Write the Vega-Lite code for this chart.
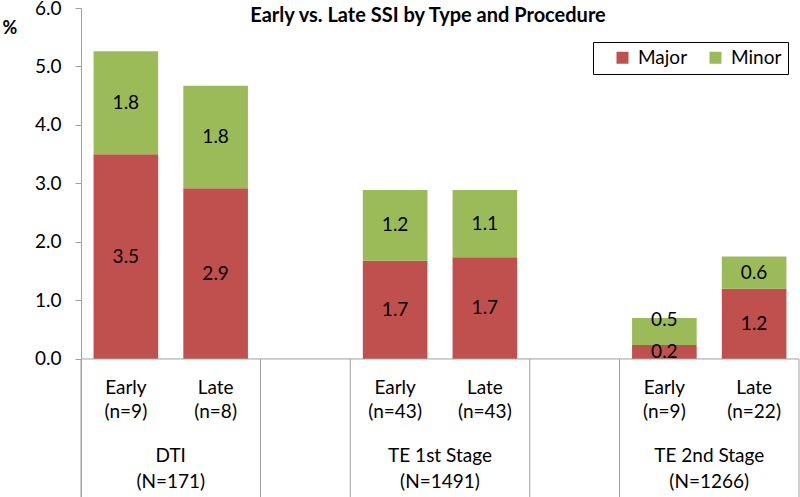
{
  "$schema": "https://vega.github.io/schema/vega-lite/v6.json",
  "autosize": {"type": "none"},
  "width": 718,
  "height": 489,
  "padding": {"left": 81, "top": 8, "right": 1, "bottom": 0},
  "background": "white",
  "title": {
    "text": "Early vs. Late SSI by Type and Procedure",
    "font": "Lato",
    "fontSize": 20,
    "fontWeight": "bold",
    "color": "black",
    "anchor": "middle",
    "frame": "group",
    "baseline": "alphabetic",
    "offset": 0,
    "dy": 43,
    "dx": -12
  },
  "config": {
    "view": {"stroke": null},
    "font": "Lato",
    "text": {"font": "Lato"}
  },
  "datasets": {
    "bars": [
      {"slot": "DTI-E", "type": "Major", "value": 3.50, "label": "3.5"},
      {"slot": "DTI-E", "type": "Minor", "value": 1.76, "label": "1.8"},
      {"slot": "DTI-L", "type": "Major", "value": 2.92, "label": "2.9"},
      {"slot": "DTI-L", "type": "Minor", "value": 1.75, "label": "1.8"},
      {"slot": "TE1-E", "type": "Major", "value": 1.68, "label": "1.7"},
      {"slot": "TE1-E", "type": "Minor", "value": 1.21, "label": "1.2"},
      {"slot": "TE1-L", "type": "Major", "value": 1.74, "label": "1.7"},
      {"slot": "TE1-L", "type": "Minor", "value": 1.15, "label": "1.1"},
      {"slot": "TE2-E", "type": "Major", "value": 0.24, "label": "0.2"},
      {"slot": "TE2-E", "type": "Minor", "value": 0.46, "label": "0.5"},
      {"slot": "TE2-L", "type": "Major", "value": 1.20, "label": "1.2"},
      {"slot": "TE2-L", "type": "Minor", "value": 0.55, "label": "0.6"}
    ],
    "sub": [
      {"slot": "DTI-E", "text": "Early\n(n=9)"},
      {"slot": "DTI-L", "text": "Late\n(n=8)"},
      {"slot": "TE1-E", "text": "Early\n(n=43)"},
      {"slot": "TE1-L", "text": "Late\n(n=43)"},
      {"slot": "TE2-E", "text": "Early\n(n=9)"},
      {"slot": "TE2-L", "text": "Late\n(n=22)"}
    ],
    "groups": [
      {"slot": "DTI-E", "text": "DTI\n(N=171)"},
      {"slot": "TE1-E", "text": "TE 1st Stage\n(N=1491)"},
      {"slot": "TE2-E", "text": "TE 2nd Stage\n(N=1266)"}
    ],
    "seps": [
      {"slot": "DTI-E"},
      {"slot": "G1"},
      {"slot": "TE1-E"},
      {"slot": "G2"},
      {"slot": "TE2-E"}
    ],
    "sepEnd": [
      {"slot": "TE2-L"}
    ],
    "zero": [
      {"v": 0}
    ]
  },
  "layer": [
    {
      "data": {"name": "bars"},
      "mark": {"type": "bar", "width": {"band": 0.72}},
      "encoding": {
        "x": {
          "field": "slot",
          "type": "nominal",
          "scale": {
            "domain": ["DTI-E", "DTI-L", "G1", "TE1-E", "TE1-L", "G2", "TE2-E", "TE2-L"],
            "paddingInner": 0,
            "paddingOuter": 0
          },
          "axis": null
        },
        "y": {
          "field": "value",
          "type": "quantitative",
          "stack": "zero",
          "scale": {"domain": [-2.36, 6], "nice": false, "zero": false},
          "axis": {
            "values": [0, 1, 2, 3, 4, 5, 6],
            "format": ".1f",
            "grid": false,
            "domainColor": "#A0A0A0",
            "domainWidth": 1,
            "tickColor": "#A0A0A0",
            "tickSize": 6,
            "labelFont": "Lato",
            "labelFontSize": 19,
            "labelColor": "black",
            "labelPadding": 14,
            "title": "%",
            "titleFont": "Lato",
            "titleFontSize": 18,
            "titleFontWeight": "bold",
            "titleColor": "black",
            "titleAngle": 0,
            "titleX": -79,
            "titleY": 20,
            "titleAlign": "left",
            "titleBaseline": "middle"
          }
        },
        "order": {"field": "type", "sort": "ascending"},
        "color": {
          "field": "type",
          "type": "nominal",
          "scale": {"domain": ["Major", "Minor"], "range": ["#C0504D", "#9BBB59"]},
          "legend": {
            "title": null,
            "orient": "none",
            "legendX": 512,
            "legendY": 34,
            "direction": "horizontal",
            "strokeColor": "black",
            "padding": 6,
            "symbolType": "square",
            "symbolSize": 144,
            "symbolStrokeWidth": 0,
            "symbolOffset": 14,
            "labelFont": "Lato",
            "labelFontSize": 19,
            "labelColor": "black",
            "columnPadding": 4,
            "labelOffset": 6
          }
        }
      }
    },
    {
      "data": {"name": "bars"},
      "transform": [
        {"stack": "value", "groupby": ["slot"], "sort": [{"field": "type", "order": "ascending"}], "as": ["y0", "y1"]},
        {"calculate": "(datum.y0 + datum.y1) / 2", "as": "mid"},
        {"filter": "!(datum.slot == 'TE2-E' && datum.type == 'Minor')"}
      ],
      "mark": {"type": "text", "font": "Lato", "fontSize": 19, "color": "black", "baseline": "middle", "align": "center"},
      "encoding": {
        "x": {"field": "slot", "type": "nominal"},
        "y": {"field": "mid", "type": "quantitative"},
        "text": {"field": "label"}
      }
    },
    {
      "data": {"name": "bars"},
      "transform": [
        {"stack": "value", "groupby": ["slot"], "sort": [{"field": "type", "order": "ascending"}], "as": ["y0", "y1"]},
        {"calculate": "(datum.y0 + datum.y1) / 2", "as": "mid"},
        {"filter": "datum.slot == 'TE2-E' && datum.type == 'Minor'"}
      ],
      "mark": {"type": "text", "font": "Lato", "fontSize": 19, "color": "black", "baseline": "middle", "align": "center", "dy": -11},
      "encoding": {
        "x": {"field": "slot", "type": "nominal"},
        "y": {"field": "mid", "type": "quantitative"},
        "text": {"field": "label"}
      }
    },
    {
      "data": {"name": "zero"},
      "mark": {"type": "rule", "color": "#A0A0A0", "strokeWidth": 1},
      "encoding": {"y": {"field": "v", "type": "quantitative"}}
    },
    {
      "data": {"name": "seps"},
      "mark": {"type": "rule", "color": "#A0A0A0", "strokeWidth": 1},
      "encoding": {
        "x": {"field": "slot", "type": "nominal", "bandPosition": 0},
        "y": {"datum": 0},
        "y2": {"datum": -2.36}
      }
    },
    {
      "data": {"name": "sepEnd"},
      "mark": {"type": "rule", "color": "#A0A0A0", "strokeWidth": 1},
      "encoding": {
        "x": {"field": "slot", "type": "nominal", "bandPosition": 0.9999},
        "y": {"datum": 0},
        "y2": {"datum": -2.36}
      }
    },
    {
      "data": {"name": "sub"},
      "mark": {"type": "text", "font": "Lato", "fontSize": 19, "color": "black", "lineBreak": "\n", "lineHeight": 24, "baseline": "middle", "align": "center"},
      "encoding": {
        "x": {"field": "slot", "type": "nominal"},
        "y": {"datum": -0.505},
        "text": {"field": "text"}
      }
    },
    {
      "data": {"name": "groups"},
      "mark": {"type": "text", "font": "Lato", "fontSize": 19, "color": "black", "lineBreak": "\n", "lineHeight": 26, "baseline": "middle", "align": "center"},
      "encoding": {
        "x": {"field": "slot", "type": "nominal", "bandPosition": 0.9999},
        "y": {"datum": -1.66},
        "text": {"field": "text"}
      }
    }
  ]
}
